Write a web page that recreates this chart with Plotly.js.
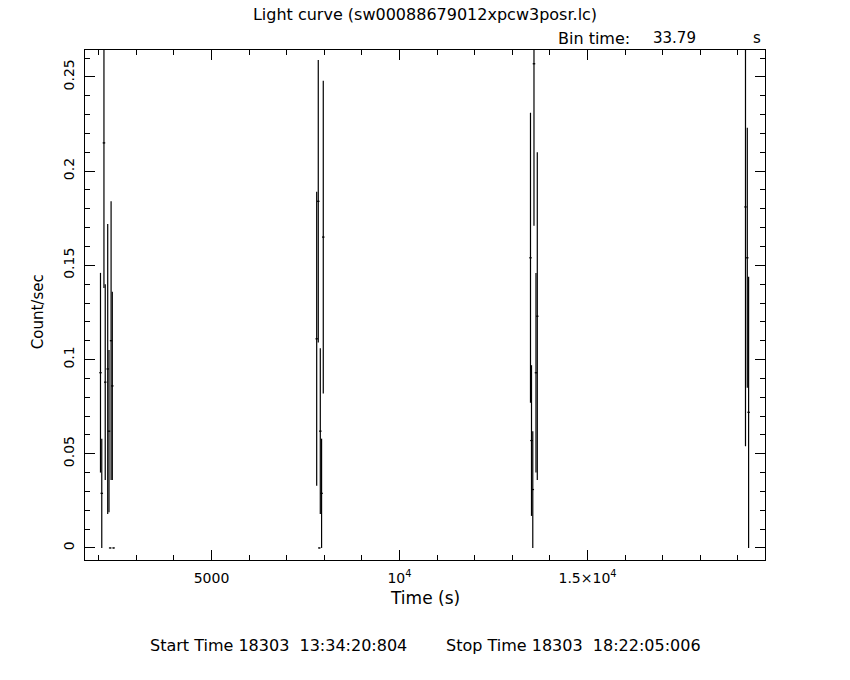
<!DOCTYPE html>
<html><head><meta charset="utf-8">
<script src="https://cdn.plot.ly/plotly-3.0.1.min.js"></script>
<style>html,body{margin:0;padding:0;background:#fff;}</style>
</head><body>
<div id="chart" style="width:850px;height:680px;"></div>
<script>
const BIN_TIME = 33.79;
const time = [2048, 2082, 2140, 2174, 2240, 2274, 2306, 2330, 2362, 2396,
              7798, 7840, 7868, 7894, 7928, 7973,
              13484, 13511, 13545, 13577, 13630, 13665,
              19202, 19250, 19285];
const rate = [0.093, 0.029, 0.215, 0.088, 0.095, 0.062, 0, 0.110, 0.086, 0,
              0.111, 0.184, 0, 0.062, 0.029, 0.165,
              0.154, 0.057, 0.031, 0.257, 0.093, 0.123,
              0.181, 0.154, 0.072];
const rateErr = [0.053, 0.029, 0.077, 0.052, 0.077, 0.043, 0, 0.074, 0.050, 0,
                 0.078, 0.075, 0, 0.044, 0.029, 0.083,
                 0.077, 0.040, 0.031, 0.086, 0.053, 0.087,
                 0.127, 0.069, 0.072];
const xTickVals = [5000, 10000, 15000];
const xTickText = ['5000', '10<sup>4</sup>', '1.5×10<sup>4</sup>'];
const yTickVals = [0, 0.05, 0.1, 0.15, 0.2, 0.25];
const yTickText = ['0', '0.05', '0.1', '0.15', '0.2', '0.25'];

const FONT = 'DejaVu Sans, sans-serif';
const trace = {
  x: time, y: rate, type: 'scatter', mode: 'markers',
  marker: {size: 1, color: 'black'},
  error_y: {type: 'data', array: rateErr, visible: true, width: 0, thickness: 1.2, color: 'black'},
  error_x: {type: 'constant', value: BIN_TIME, visible: true, width: 0, thickness: 1.2, color: 'black'},
  hoverinfo: 'skip', showlegend: false
};
const axisCommon = {
  showline: true, linecolor: 'black', linewidth: 1, mirror: 'allticks',
  ticks: 'inside', ticklen: 10, tickwidth: 1, tickcolor: 'black',
  showgrid: false, zeroline: false,
  tickfont: {family: FONT, size: 14, color: 'black'}
};
const layout = {
  width: 850, height: 680,
  margin: {l: 85, r: 85, t: 50, b: 120},
  paper_bgcolor: 'white', plot_bgcolor: 'white',
  font: {family: FONT, color: 'black'},
  title: {text: 'Light curve (sw00088679012xpcw3posr.lc)', x: 0.5, xref: 'container', y: 0.979, yref: 'container', yanchor: 'middle',
          font: {family: FONT, size: 16, color: 'black'}},
  xaxis: Object.assign({}, axisCommon, {
    range: [1636, 19721], tickmode: 'array', tickvals: xTickVals, ticktext: xTickText, ticklabelstandoff: 5,
    minor: {tickmode: 'linear', tick0: 0, dtick: 1000, ticks: 'inside', ticklen: 5, tickwidth: 1, tickcolor: 'black', showgrid: false}
  }),
  yaxis: Object.assign({}, axisCommon, {
    range: [-0.0064, 0.2643], tickmode: 'array', tickvals: yTickVals, ticktext: yTickText, tickangle: -90, ticklabelstandoff: 4,
    minor: {tickmode: 'linear', tick0: 0, dtick: 0.01, ticks: 'inside', ticklen: 5, tickwidth: 1, tickcolor: 'black', showgrid: false}
  }),
  annotations: [
    {text: 'Bin time:', xref: 'paper', yref: 'paper', x: 0.804, y: 1.0235, xanchor: 'right', yanchor: 'middle', showarrow: false, font: {family: FONT, size: 16}},
    {text: '33.79', xref: 'paper', yref: 'paper', x: 0.8676, y: 1.0235, xanchor: 'center', yanchor: 'middle', showarrow: false, font: {family: FONT, size: 15}},
    {text: 's', xref: 'paper', yref: 'paper', x: 0.988, y: 1.0235, xanchor: 'center', yanchor: 'middle', showarrow: false, font: {family: FONT, size: 15}},
    {text: 'Time (s)', xref: 'paper', yref: 'paper', x: 0.5, y: -0.0745, xanchor: 'center', yanchor: 'middle', showarrow: false, font: {family: FONT, size: 17}},
    {text: 'Count/sec', xref: 'paper', yref: 'paper', x: -0.069, y: 0.486, xanchor: 'center', yanchor: 'middle', textangle: -90, showarrow: false, font: {family: FONT, size: 15}},
    {text: 'Start Time 18303  13:34:20:804', xref: 'paper', yref: 'paper', x: 0.284, y: -0.1667, xanchor: 'center', yanchor: 'middle', showarrow: false, font: {family: FONT, size: 16}},
    {text: 'Stop Time 18303  18:22:05:006', xref: 'paper', yref: 'paper', x: 0.719, y: -0.1667, xanchor: 'center', yanchor: 'middle', showarrow: false, font: {family: FONT, size: 16}}
  ]
};
Plotly.newPlot('chart', [trace], layout, {displayModeBar: false, staticPlot: true});
</script>
</body></html>
